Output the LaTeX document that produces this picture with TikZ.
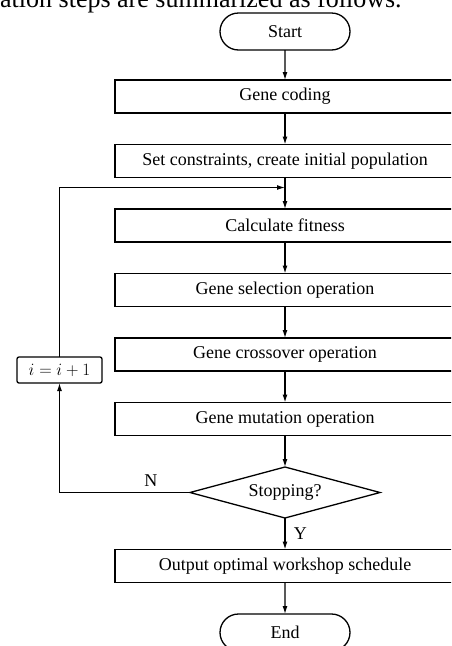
\documentclass[tikz,border=0pt]{standalone}
\usepackage{fontspec}
\setmainfont{Liberation Serif}
\usepackage{tikz}
\usetikzlibrary{arrows.meta, shapes.geometric, shapes.misc, positioning, calc}

\begin{document}
\begin{tikzpicture}[
  x=1pt, y=1pt,
  node distance=31.5pt,
  font=\fontsize{18}{21}\selectfont,
  procbox/.style={rectangle, draw, line width=1.3pt, outer sep=0pt,
                  minimum width=340pt, minimum height=33pt,
                  inner sep=0pt, align=center},
  terminal/.style={rounded rectangle, draw, line width=1.3pt, outer sep=0pt,
                   minimum width=130pt, minimum height=37pt, inner sep=0pt},
  decision/.style={diamond, draw, line width=1.3pt, aspect=3.7, outer sep=0pt,
                   minimum width=190pt, minimum height=51pt, inner sep=0pt},
  counter/.style={rectangle, draw, line width=1.3pt, rounded corners=2pt,
                  minimum width=85pt, minimum height=26pt, inner sep=0pt,
                  outer sep=0pt, font=\fontsize{16}{18}\selectfont},
  arrow/.style={-{Latex[length=8pt,width=5pt]}, line width=1.2pt},
]
  \path[use as bounding box, clip] (0,0) rectangle (451,-646);

  % Text line cut by the top edge
  \node[anchor=base west, inner sep=0pt, font=\fontsize{26}{30}\selectfont]
        (caption) at (0,-7) {ation steps are summarized as follows.};

  % Main column
  \node[terminal] (start) at (285,-31.5) {Start};
  \node[procbox, below=30pt of start] (coding) {Gene coding};
  \node[procbox, below=of coding]     (setc)   {Set constraints, create initial population};
  \node[procbox, below=of setc]       (calc)   {Calculate fitness};
  \node[procbox, below=of calc]       (sel)    {Gene selection operation};
  \node[procbox, below=of sel]        (cross)  {Gene crossover operation};
  \node[procbox, below=of cross]      (mut)    {Gene mutation operation};
  \node[decision, below=of mut]       (stop)   {Stopping?};
  \node[procbox, below=of stop]       (output) {Output optimal workshop schedule};
  \node[terminal, below=of output]    (finish) {End};

  % Iteration counter
  \node[counter] (inc) at (59.5,-370) {$i=i+1$};
  \coordinate (merge) at ($(setc.south)+(0,-10)$);

  % Flows
  \draw[arrow] (start)--(coding);
  \draw[arrow] (coding)--(setc);
  \draw[arrow] (setc)--(calc);
  \draw[arrow] (calc)--(sel);
  \draw[arrow] (sel)--(cross);
  \draw[arrow] (cross)--(mut);
  \draw[arrow] (mut)--(stop);
  \draw[arrow] (stop)--node[right=5pt]{Y}(output);
  \draw[arrow] (output)--(finish);

  % Loop back
  \draw[arrow] (stop.west) -- node[pos=0.3, above=2pt]{N}
    (stop.west -| inc.south) -- (inc.south);
  \draw[arrow] (inc.north) |- (merge);
\end{tikzpicture}
\end{document}
